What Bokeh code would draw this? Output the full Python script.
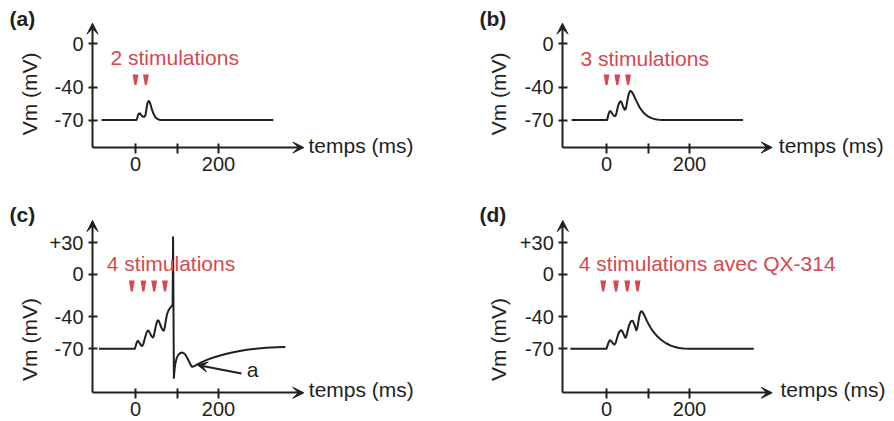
from math import pi
from bokeh.plotting import figure
from bokeh.layouts import column, row
from bokeh.models import Range1d, FixedTicker, Label, Arrow, VeeHead
from bokeh.embed import file_html
from bokeh.resources import INLINE

# ---------------- data ----------------
t_a = [-82, 2, 4, 6, 8, 10, 12, 15, 18, 21, 24, 26, 28, 30, 32, 34, 36, 39, 43, 48, 54, 60, 66, 332]
v_a = [-70, -70, -68.5, -65.5, -64.2, -63.8, -64.5, -66, -67, -67, -65.5, -61, -56, -53.2, -52.5,
       -53.2, -55.5, -59.5, -64, -67.5, -69.3, -69.9, -70, -70]

t_b = [-84, 1.5, 3, 5, 7, 9, 11, 14, 17, 20, 22, 24, 26, 28, 30, 32, 34, 36, 38, 41, 44, 46, 48, 50,
       52, 54, 56, 58, 60, 63, 66, 70, 74, 79, 84, 89, 94, 100, 106, 112, 118, 126, 135, 329]
v_b = [-70, -70, -67.5, -64.3, -62.4, -61.8, -62.4, -64.2, -65.8, -66.5, -66, -63.5, -60, -57, -54.8,
       -53.3, -52.8, -53.5, -55.5, -58.5, -60.5, -60, -57, -52.5, -48.5, -45.5, -43.8, -43.2, -43.6,
       -45.3, -47.5, -51, -54, -57.8, -60.7, -63, -64.9, -66.6, -67.8, -68.7, -69.3, -69.8, -70, -70]

t_c = [-88, -2, 0, 2.5, 5.5, 8, 11, 14, 16, 18.5, 21, 24, 27, 29.7, 32, 35, 38, 41.8, 44, 46.5, 49,
       51.5, 53.8, 56, 59, 62, 65, 68.3, 70.5, 73, 76, 80, 84, 88, 89.5, 90.5, 92.5, 94, 96, 99, 103,
       108, 112.5, 117, 121, 125, 129, 133, 136.5, 142, 150, 160, 172, 186, 200, 215, 230, 248, 268,
       290, 315, 340, 361]
v_c = [-70, -70, -68, -64.5, -62.5, -63.5, -65.5, -67, -67.4, -66, -62.5, -58, -54.5, -52.9, -53.3,
       -55.5, -57.8, -59.4, -58, -53.5, -48.5, -45, -43.2, -43.8, -46.5, -49.8, -52, -52.9, -50,
       -43.5, -37.5, -33.5, -31.2, -29.6, -28, 35, -97.5, -90, -84, -79, -75.8, -74, -73.6, -74.3,
       -76, -78.8, -82, -85.2, -87.1, -86.3, -84.5, -82.5, -80.5, -78.5, -76.8, -75.2, -73.8, -72.4,
       -71, -69.9, -69.1, -68.6, -68.4]

t_d = [-87, 0, 2, 5, 8, 11, 14, 17, 19.5, 22, 25, 28, 31, 34, 36, 38, 41, 44, 46, 48, 51, 54, 57,
       60, 62, 64, 67, 70, 72, 74, 76, 78, 80, 82, 84, 86, 89, 93, 97, 101, 106, 111, 117, 123, 130,
       138, 146, 155, 165, 175, 186, 198, 355]
v_d = [-70, -70, -67.5, -64, -62, -62.5, -64.2, -65.5, -66, -64.5, -60.5, -56.5, -54, -52.8, -52.6,
       -53.5, -56, -58.7, -59.7, -58, -53, -48.5, -45.3, -43.8, -43.6, -44.3, -47, -50.5, -52.6, -51,
       -46.5, -41.5, -37.8, -35.5, -34.6, -35, -36.8, -40, -43.5, -46.5, -50, -53, -56, -58.5, -61,
       -63.4, -65.3, -67, -68.3, -69.2, -69.8, -70, -70]

stim_a = [0, 25]
stim_b = [0, 26, 52]
stim_c = [-9, 19, 45, 71]
stim_d = [-8, 23, 50, 75]

x_ticks = [0, 100, 200]
x_tick_labels = {0: "0", 100: "", 200: "200"}
y_ticks_top = [-70, -40, 0]
y_ticks_bottom = [-70, -40, 0, 30]
y_tick_labels = {-70: "-70", -40: "-40", 0: "0", 30: "+30"}

panel_letters = ["(a)", "(b)", "(c)", "(d)"]
stim_texts = ["2 stimulations", "3 stimulations", "4 stimulations", "4 stimulations avec QX-314"]
x_label = "temps (ms)"
y_label = "Vm (mV)"
note_text = "a"

# ---------------- style / layout ----------------
INK = "#231f20"
RED = "#d6474e"
FONT = "Liberation Sans"
KX = 0.415   # px per ms
LDY = 9      # correction of the label baseline, px (upwards)

# page-pixel geometry of each panel (as measured on the reference)
G = [
    dict(box=(0, 0, 478, 200), x0=135, y0=43.4, ky=1.088, yaxis=92, xaxis=147, xtip=303.3, ytip=22.7,
         tri=(74, 84.5), lett=(9, 26.5), stxt=(110, 66), xl=(308, 153.5), yl=(29, 93.3)),
    dict(box=(478, 0, 416, 200), x0=606, y0=43.4, ky=1.088, yaxis=562, xaxis=147, xtip=771.7, ytip=22.7,
         tri=(74, 84.5), lett=(479, 26.5), stxt=(580, 66.5), xl=(778.3, 153.5), yl=(498, 93.3)),
    dict(box=(0, 200, 478, 221), x0=135, y0=273.9, ky=1.0624, yaxis=92, xaxis=392.3, xtip=303.3, ytip=220,
         tri=(280, 291), lett=(9, 223), stxt=(106.3, 271.7), xl=(308.3, 398), yl=(29, 339)),
    dict(box=(478, 200, 416, 221), x0=606, y0=273.9, ky=1.0624, yaxis=562.3, xaxis=392.3, xtip=771.7, ytip=220,
         tri=(280, 291), lett=(479, 223), stxt=(578.3, 271.7), xl=(780, 398), yl=(498, 339)),
]


def make_panel(g, t, v, stims, letter, stxt, yticks, note=False):
    def tx(px):
        return (px - g["x0"]) / KX

    def vy(py):
        return -(py - g["y0"]) / g["ky"]

    left, top, w, h = g["box"]
    p = figure(width=w, height=h, output_backend="svg", toolbar_location=None,
               x_range=Range1d(tx(left), tx(left + w)), y_range=Range1d(vy(top + h), vy(top)),
               min_border=0)
    p.outline_line_color = None
    p.background_fill_color = "white"
    p.border_fill_color = "white"
    p.xgrid.visible = False
    p.ygrid.visible = False

    # x axis
    xa = p.xaxis[0]
    xa.fixed_location = vy(g["xaxis"])
    xa.bounds = (tx(g["yaxis"]), tx(g["xtip"] - 5))
    xa.ticker = FixedTicker(ticks=x_ticks)
    xa.major_label_overrides = x_tick_labels
    xa.axis_line_width = 2
    xa.axis_line_color = INK
    xa.major_tick_line_width = 2
    xa.major_tick_line_color = INK
    xa.major_tick_in = 4
    xa.major_tick_out = 6
    xa.minor_tick_line_color = None
    xa.major_label_standoff = 3
    xa.major_label_text_font = FONT
    xa.major_label_text_font_size = "20px"
    xa.major_label_text_color = INK

    # y axis
    ya = p.yaxis[0]
    ya.fixed_location = tx(g["yaxis"])
    ya.bounds = (vy(g["xaxis"]), vy(g["ytip"] + 5))
    ya.ticker = FixedTicker(ticks=yticks)
    ya.major_label_overrides = {k: y_tick_labels[k] for k in yticks}
    ya.axis_line_width = 2
    ya.axis_line_color = INK
    ya.major_tick_line_width = 2
    ya.major_tick_line_color = INK
    ya.major_tick_in = 5
    ya.major_tick_out = 4
    ya.minor_tick_line_color = None
    ya.major_label_standoff = 5
    ya.major_label_text_font = FONT
    ya.major_label_text_font_size = "20px"
    ya.major_label_text_color = INK

    # arrow heads at the ends of the axes
    def head():
        return VeeHead(size=11, fill_color=INK, line_color=INK, line_width=1)

    p.add_layout(Arrow(end=head(), x_start=tx(g["yaxis"]), y_start=vy(g["ytip"] + 12),
                       x_end=tx(g["yaxis"]), y_end=vy(g["ytip"]), line_alpha=0))
    p.add_layout(Arrow(end=head(), x_start=tx(g["xtip"] - 12), y_start=vy(g["xaxis"]),
                       x_end=tx(g["xtip"]), y_end=vy(g["xaxis"]), line_alpha=0))

    # trace
    p.line(t, v, line_width=2, line_color=INK, line_join="round")

    # stimulation markers (inverted trapezoids)
    ht, hb = 2.9 / KX, 1.0 / KX
    yt, yb = vy(g["tri"][0]), vy(g["tri"][1])
    p.patches(xs=[[s - ht, s + ht, s + hb, s - hb] for s in stims],
              ys=[[yt, yt, yb, yb] for _ in stims], fill_color=RED, line_color=None)

    # texts (positions given as left edge / baseline in page pixels)
    def label(px, py, text, color=INK, style="normal"):
        p.add_layout(Label(x=tx(px), y=vy(py - LDY), text=text, text_font=FONT,
                           text_font_size="21px", text_font_style=style, text_color=color,
                           text_align="left", text_baseline="alphabetic"))

    label(*g["lett"], letter, style="bold")
    label(*g["stxt"], stxt, color=RED)
    label(*g["xl"], x_label)
    p.add_layout(Label(x=tx(g["yl"][0]), y=vy(g["yl"][1]), text=y_label, text_font=FONT,
                       text_font_size="21px", text_color=INK, angle=pi / 2,
                       text_align="center", text_baseline="middle"))

    if note:
        p.add_layout(Arrow(end=VeeHead(size=10, fill_color=INK, line_color=INK, line_width=1),
                           x_start=tx(241), y_start=vy(373), x_end=tx(197), y_end=vy(364.5),
                           line_width=1.8, line_color=INK))
        label(246.3, 378.3, note_text)
    return p


pa = make_panel(G[0], t_a, v_a, stim_a, panel_letters[0], stim_texts[0], y_ticks_top)
pb = make_panel(G[1], t_b, v_b, stim_b, panel_letters[1], stim_texts[1], y_ticks_top)
pc = make_panel(G[2], t_c, v_c, stim_c, panel_letters[2], stim_texts[2], y_ticks_bottom, note=True)
pd = make_panel(G[3], t_d, v_d, stim_d, panel_letters[3], stim_texts[3], y_ticks_bottom)

layout = column(row(pa, pb), row(pc, pd))
open("out.html", "w").write(file_html(layout, INLINE))
